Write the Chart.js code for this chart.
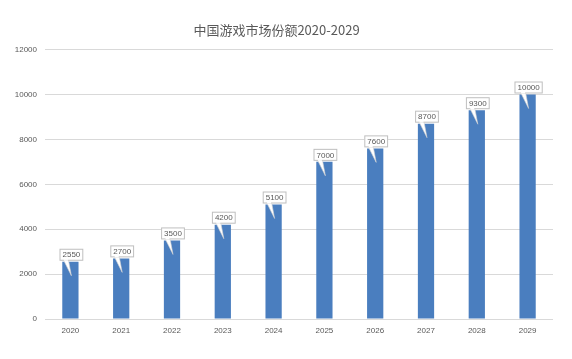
<!DOCTYPE html>
<html>
<head>
<meta charset="utf-8">
<script src="https://cdn.jsdelivr.net/npm/chart.js@4"></script>
<style>
  html, body { margin: 0; padding: 0; background: #fff; }
  #wrap { width: 572px; height: 359px; }
</style>
</head>
<body>
<div id="wrap"><canvas id="chart" width="572" height="359"></canvas></div>
<script>
'use strict';

// Data
const years = ['2020', '2021', '2022', '2023', '2024', '2025', '2026', '2027', '2028', '2029'];
const shares = [2550, 2700, 3500, 4200, 5100, 7000, 7600, 8700, 9300, 10000];
const yTicks = [0, 2000, 4000, 6000, 8000, 10000, 12000];

const barColor = '#4a7ebf';
const textColor = '#595959';

// Callout style labels above each bar
const calloutPlugin = {
  id: 'callouts',
  afterDatasetsDraw(chart) {
    const ctx = chart.ctx;
    const meta = chart.getDatasetMeta(0);
    ctx.save();
    ctx.font = '8px "Liberation Sans", sans-serif';
    ctx.textAlign = 'center';
    ctx.textBaseline = 'middle';
    meta.data.forEach((bar, i) => {
      const text = String(shares[i]);
      const w = ctx.measureText(text).width + 6;
      const h = 12;
      const cx = bar.x + 1;
      const bottom = bar.y - 1;
      const top = bottom - h;

      // pointer going down into the bar
      ctx.beginPath();
      ctx.moveTo(cx - 8, bottom - 1);
      ctx.lineTo(cx - 3, bottom - 1);
      ctx.lineTo(bar.x + 1, bar.y + 14);
      ctx.closePath();
      ctx.fillStyle = '#ffffff';
      ctx.fill();
      ctx.strokeStyle = '#d0d0d0';
      ctx.lineWidth = 0.6;
      ctx.stroke();

      // box
      ctx.fillStyle = '#ffffff';
      ctx.fillRect(cx - w / 2, top, w, h);
      ctx.strokeStyle = '#bfbfbf';
      ctx.lineWidth = 1;
      ctx.strokeRect(cx - w / 2 + 0.5, top + 0.5, w - 1, h - 1);
      // cover seam where the pointer joins
      ctx.fillRect(cx - 7.5, bottom - 1.5, 4, 1.5);

      ctx.fillStyle = textColor;
      ctx.fillText(text, cx, top + h / 2 + 0.5);
    });
    ctx.restore();
  }
};

const el = document.querySelector('canvas#chart');

const chart = new Chart(el, {
  type: 'bar',
  data: {
    labels: years,
    datasets: [{
      label: '份额',
      data: shares,
      backgroundColor: barColor,
      borderWidth: 0,
      barPercentage: 0.32,
      categoryPercentage: 1
    }]
  },
  options: {
    responsive: false,
    animation: false,
    layout: { padding: { left: 0, right: 19, top: 0, bottom: 0 } },
    plugins: {
      legend: { display: false },
      tooltip: { enabled: false },
      title: {
        display: true,
        text: '中国游戏市场份额2020-2029',
        color: textColor,
        font: { family: '"Noto Sans CJK SC", sans-serif', size: 13, weight: 'normal' },
        padding: { top: 22, bottom: 12 }
      }
    },
    scales: {
      x: {
        grid: { display: false, drawTicks: false },
        border: { display: false },
        ticks: {
          color: textColor,
          font: { family: '"Liberation Sans", sans-serif', size: 8 },
          padding: 7,
          maxRotation: 0
        },
        afterFit(scale) { scale.height = 40; }
      },
      y: {
        min: 0,
        max: 12000,
        afterBuildTicks(scale) { scale.ticks = yTicks.map(v => ({ value: v })); },
        grid: { color: '#d9d9d9', drawTicks: false, lineWidth: 1 },
        border: { display: false },
        ticks: {
          color: textColor,
          font: { family: '"Liberation Sans", sans-serif', size: 8 },
          padding: 8,
          callback: v => String(v)
        },
        afterFit(scale) { scale.width = 45; }
      }
    }
  },
  plugins: [calloutPlugin]
});
</script>
</body>
</html>
